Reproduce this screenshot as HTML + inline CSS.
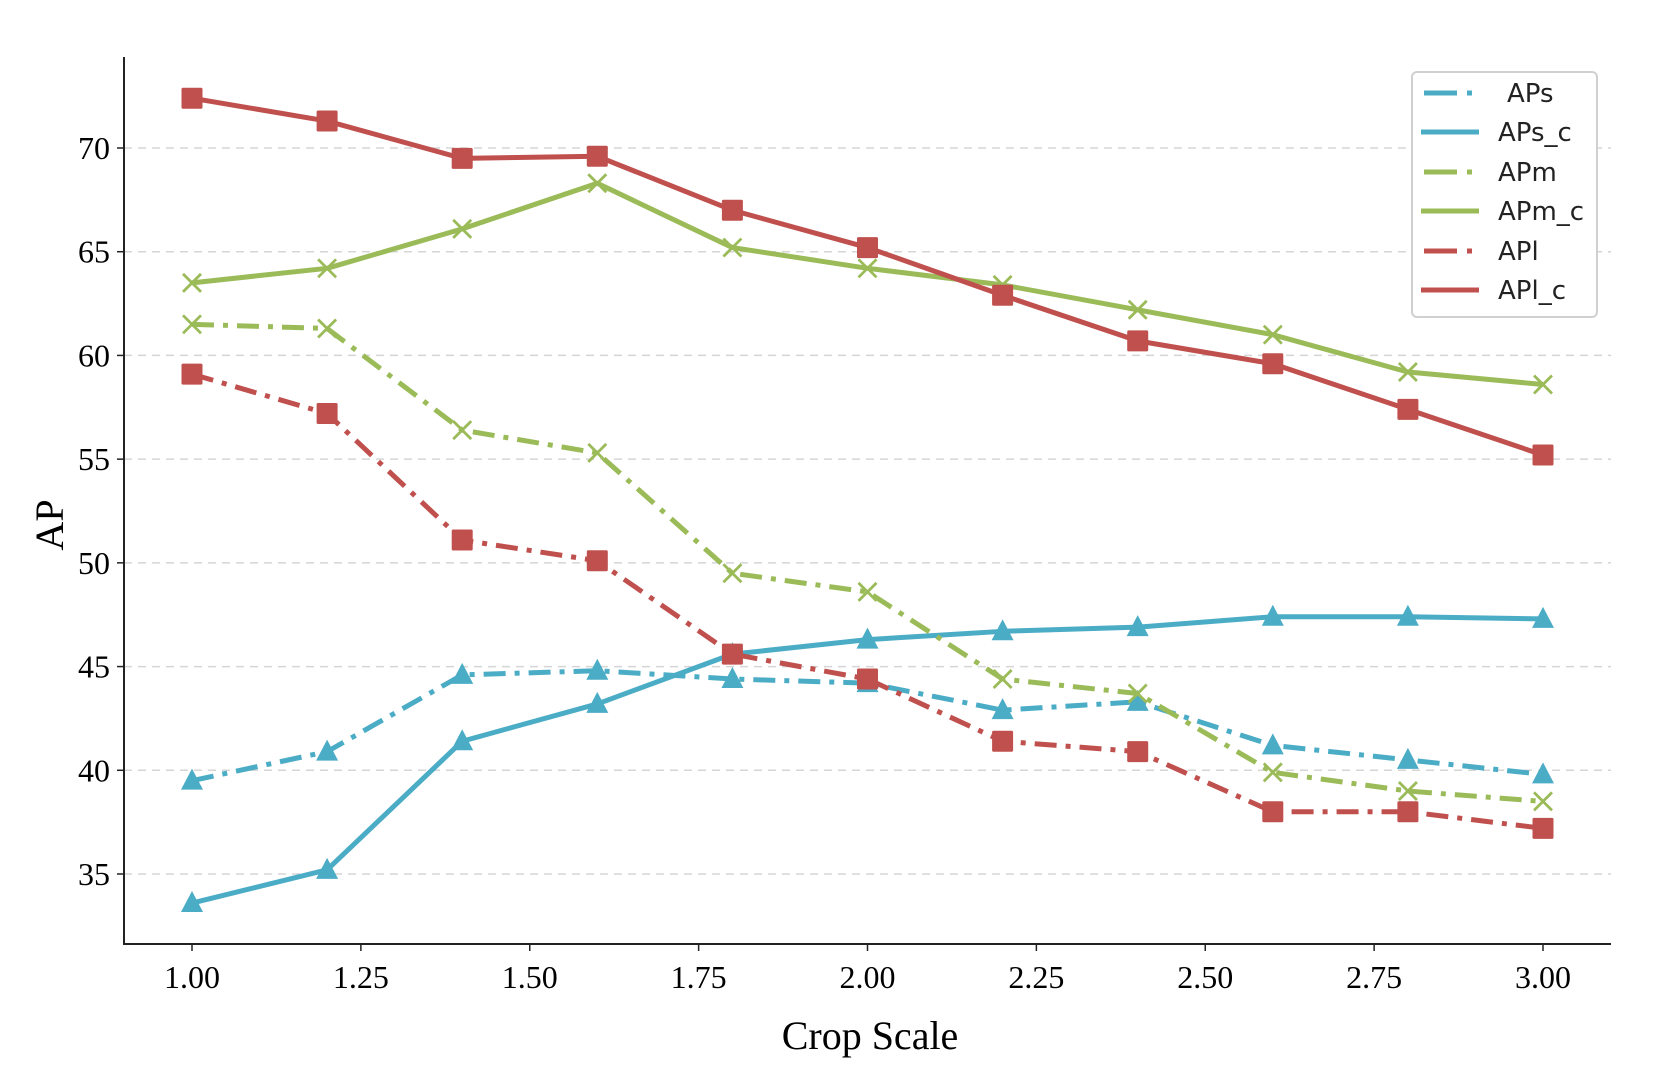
<!DOCTYPE html>
<html><head><meta charset="utf-8"><style>
html,body{margin:0;padding:0;background:#fff;}
svg{display:block;}
</style></head><body>
<svg id="chart" width="1660" height="1082" xmlns="http://www.w3.org/2000/svg">
<g id="grid"></g>
<g id="axes"></g>
<g id="series"></g>
<text x="870" y="1049" font-family="Liberation Serif, serif" font-size="40" text-anchor="middle">Crop Scale</text>
<text transform="translate(63,525) rotate(-90)" font-family="Liberation Serif, serif" font-size="40" text-anchor="middle">AP</text>
<g id="legend"></g>
</svg>
<script>
const xValues = [1.0,1.2,1.4,1.6,1.8,2.0,2.2,2.4,2.6,2.8,3.0];
const xTicks = [1.00,1.25,1.50,1.75,2.00,2.25,2.50,2.75,3.00];
const yTicks = [35,40,45,50,55,60,65,70];
const seriesNames = ["APs","APs_c","APm","APm_c","APl","APl_c"];
const apsValues  = [39.5,40.9,44.6,44.8,44.4,44.2,42.9,43.3,41.2,40.5,39.8];
const apscValues = [33.6,35.2,41.4,43.2,45.6,46.3,46.7,46.9,47.4,47.4,47.3];
const apmValues  = [61.5,61.3,56.4,55.3,49.5,48.6,44.4,43.7,39.9,39.0,38.5];
const apmcValues = [63.5,64.2,66.1,68.3,65.2,64.2,63.4,62.2,61.0,59.2,58.6];
const aplValues  = [59.1,57.2,51.1,50.1,45.6,44.4,41.4,40.9,38.0,38.0,37.2];
const aplcValues = [72.4,71.3,69.5,69.6,67.0,65.2,62.9,60.7,59.6,57.4,55.2];

const NS="http://www.w3.org/2000/svg";
const L=124,R=1611,T=57,B=944;
const xs=v=>192+(v-1)*(1543-192)/2;
const ys=v=>874-(v-35)*(874-148)/35;
function mk(tag,attrs,parent){const e=document.createElementNS(NS,tag);for(const k in attrs)e.setAttribute(k,attrs[k]);parent.appendChild(e);return e;}
const grid=document.getElementById('grid'),axes=document.getElementById('axes'),ser=document.getElementById('series'),leg=document.getElementById('legend');

yTicks.forEach(t=>{
  const g=mk('line',{x1:L,x2:R,y1:ys(t),y2:ys(t),stroke:'#d5d5d5','stroke-width':1.5,'stroke-dasharray':'8,6'},grid);
  
  
  const tk=mk('line',{x1:L-7,x2:L,y1:ys(t),y2:ys(t),stroke:'#222','stroke-width':1.5},axes);
  
  
  const tx=mk('text',{x:L-14,y:ys(t)+11,'text-anchor':'end','font-family':'Liberation Serif, serif','font-size':32},axes);
  tx.textContent=t;
  
  
});
xTicks.forEach(t=>{
  const tk=mk('line',{x1:xs(t),x2:xs(t),y1:B,y2:B+7,stroke:'#222','stroke-width':1.5},axes);
  
  
  const tx=mk('text',{x:xs(t),y:988,'text-anchor':'middle','font-family':'Liberation Serif, serif','font-size':32},axes);
  tx.textContent=t.toFixed(2);
  
  
});
const la=mk('path',{d:`M${L},${T} V${B} H${R}`,fill:'none',stroke:'#222','stroke-width':2},axes);



const BLUE='#4bacc6',GREEN='#9bbb59',RED='#c0504d';
const DD='22,9,5,9';
const defs=[
 {name:'APs',vals:apsValues,color:BLUE,dash:DD,marker:'tri'},
 {name:'APs_c',vals:apscValues,color:BLUE,dash:null,marker:'tri'},
 {name:'APm',vals:apmValues,color:GREEN,dash:DD,marker:'x'},
 {name:'APm_c',vals:apmcValues,color:GREEN,dash:null,marker:'x'},
 {name:'APl',vals:aplValues,color:RED,dash:DD,marker:'sq'},
 {name:'APl_c',vals:aplcValues,color:RED,dash:null,marker:'sq'}
];
function marker(type,x,y,c,g){
  let m;
  if(type==='tri') m=mk('path',{d:`M${x},${y-12} L${x+11},${y+9} L${x-11},${y+9} Z`,fill:c},g);
  else if(type==='sq') m=mk('rect',{x:x-10.5,y:y-10.5,width:21,height:21,fill:c,rx:1.5},g);
  else m=mk('path',{d:`M${x-9},${y-9} L${x+9},${y+9} M${x+9},${y-9} L${x-9},${y+9}`,stroke:c,'stroke-width':2.8,fill:'none'},g);
  
  
}
defs.forEach(s=>{
  const g=mk('g',{},ser);
  
  
  const pts=s.vals.map((v,i)=>xs(xValues[i])+','+ys(v)).join(' ');
  const a={points:pts,fill:'none',stroke:s.color,'stroke-width':5,'stroke-linejoin':'round'};
  if(s.dash)a['stroke-dasharray']=s.dash;
  const pl=mk('polyline',a,g);
  
  
  s.vals.forEach((v,i)=>marker(s.marker,xs(xValues[i]),ys(v),s.color,g));
});

const box=mk('rect',{x:1412,y:72,width:185,height:245,rx:5,fill:'#fff',stroke:'#d0d0d0','stroke-width':2},leg);


const ly=[93,132,172,211,251,290];
defs.forEach((s,i)=>{
  const g=mk('g',{},leg);
  
  
  if(s.dash){
    mk('line',{x1:1424,x2:1457,y1:ly[i],y2:ly[i],stroke:s.color,'stroke-width':5},g);
    mk('line',{x1:1467,x2:1472,y1:ly[i],y2:ly[i],stroke:s.color,'stroke-width':5},g);
  } else mk('line',{x1:1421,x2:1479,y1:ly[i],y2:ly[i],stroke:s.color,'stroke-width':5},g);
  const t=mk('text',{x:i===0?1507:1498,y:ly[i]+9,'font-family':'DejaVu Sans, sans-serif','font-size':26,fill:'#222'},g);
  t.textContent=s.name;
});
</script>
</body></html>
